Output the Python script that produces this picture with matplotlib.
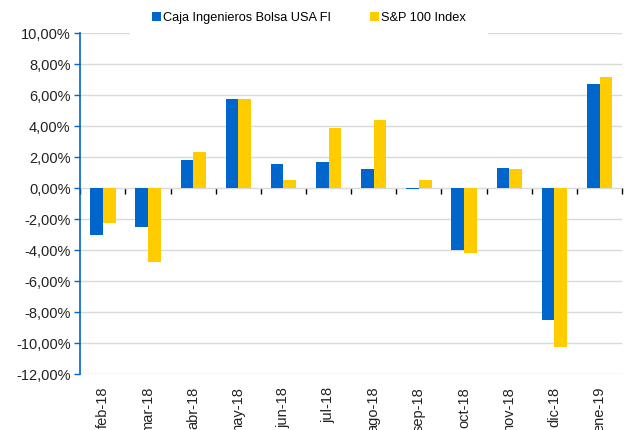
import numpy as np
import matplotlib.pyplot as plt
from matplotlib.patches import Patch

plt.rcParams['font.family'] = ['Liberation Sans', 'DejaVu Sans']

# Monthly returns (%)
months = ['feb-18', 'mar-18', 'abr-18', 'may-18', 'jun-18', 'jul-18',
          'ago-18', 'sep-18', 'oct-18', 'nov-18', 'dic-18', 'ene-19']
caja = [-3.03, -2.52, 1.83, 5.74, 1.59, 1.72, 1.27, -0.06, -3.98, 1.33, -8.52, 6.71]
sp100 = [-2.24, -4.73, 2.32, 5.78, 0.54, 3.87, 4.41, 0.54, -4.19, 1.25, -10.26, 7.16]
series_names = ['Caja Ingenieros Bolsa USA FI', 'S&P 100 Index']

blue = '#0066CC'
yellow = '#FFCC00'

ymin, ymax = -12, 10

fig = plt.figure(figsize=(6.29, 4.30), dpi=100)
ax = fig.add_axes([0.1277, 0.1295, 0.8613, 0.793])

x = np.arange(len(months))
w = 0.28
ax.bar(x - w / 2, caja, w, color=blue, zorder=3)
ax.bar(x + w / 2, sp100, w, color=yellow, zorder=3)

ax.set_xlim(-0.5, len(months) - 0.5)
ax.set_ylim(ymin, ymax)
yt = np.arange(ymin, ymax + 1, 2)
ax.set_yticks(yt)
ax.set_yticklabels([('%.2f%%' % v).replace('.', ',') for v in yt], fontsize=10.5)
ax.tick_params(axis='y', color=blue, length=4, width=1, labelcolor='#222222', pad=3)
ax.grid(axis='y', color='#D9D9D9', linewidth=1, zorder=0)
ax.set_axisbelow(True)

ax.set_xticks(x)
ax.set_xticklabels(months, rotation=90, fontsize=10.5)
ax.tick_params(axis='x', length=0, pad=9, labelcolor='#222222')

for s in ['top', 'right', 'bottom']:
    ax.spines[s].set_visible(False)
ax.spines['left'].set_color(blue)
ax.spines['left'].set_linewidth(1.2)

# zero line with category boundary ticks pointing down
zero_frac = (0 - ymin) / (ymax - ymin)
sec = ax.secondary_xaxis(zero_frac)
sec.set_xticks(np.arange(len(months) + 1) - 0.5)
sec.xaxis.set_ticks_position('bottom')
sec.tick_params(axis='x', which='both', direction='out', length=4, width=1, color='black',
                bottom=True, top=False, labelbottom=False, labeltop=False)
sec.spines['bottom'].set_color('black')
sec.spines['bottom'].set_linewidth(1.1)
sec.spines['top'].set_visible(False)

# legend box is white and hides the top gridline behind it
handles = [Patch(facecolor=blue, edgecolor='none'), Patch(facecolor=yellow, edgecolor='none')]
leg = fig.legend(handles, series_names, loc='center', bbox_to_anchor=(0.491, 0.958), ncol=2,
                 fontsize=9.2, frameon=True, facecolor='white', edgecolor='none', framealpha=1,
                 fancybox=False, handlelength=0.75, handleheight=0.75, handletextpad=0.15,
                 columnspacing=3.0, borderpad=1.7)
leg.set_zorder(10)

fig.savefig('out.png', dpi=100)
